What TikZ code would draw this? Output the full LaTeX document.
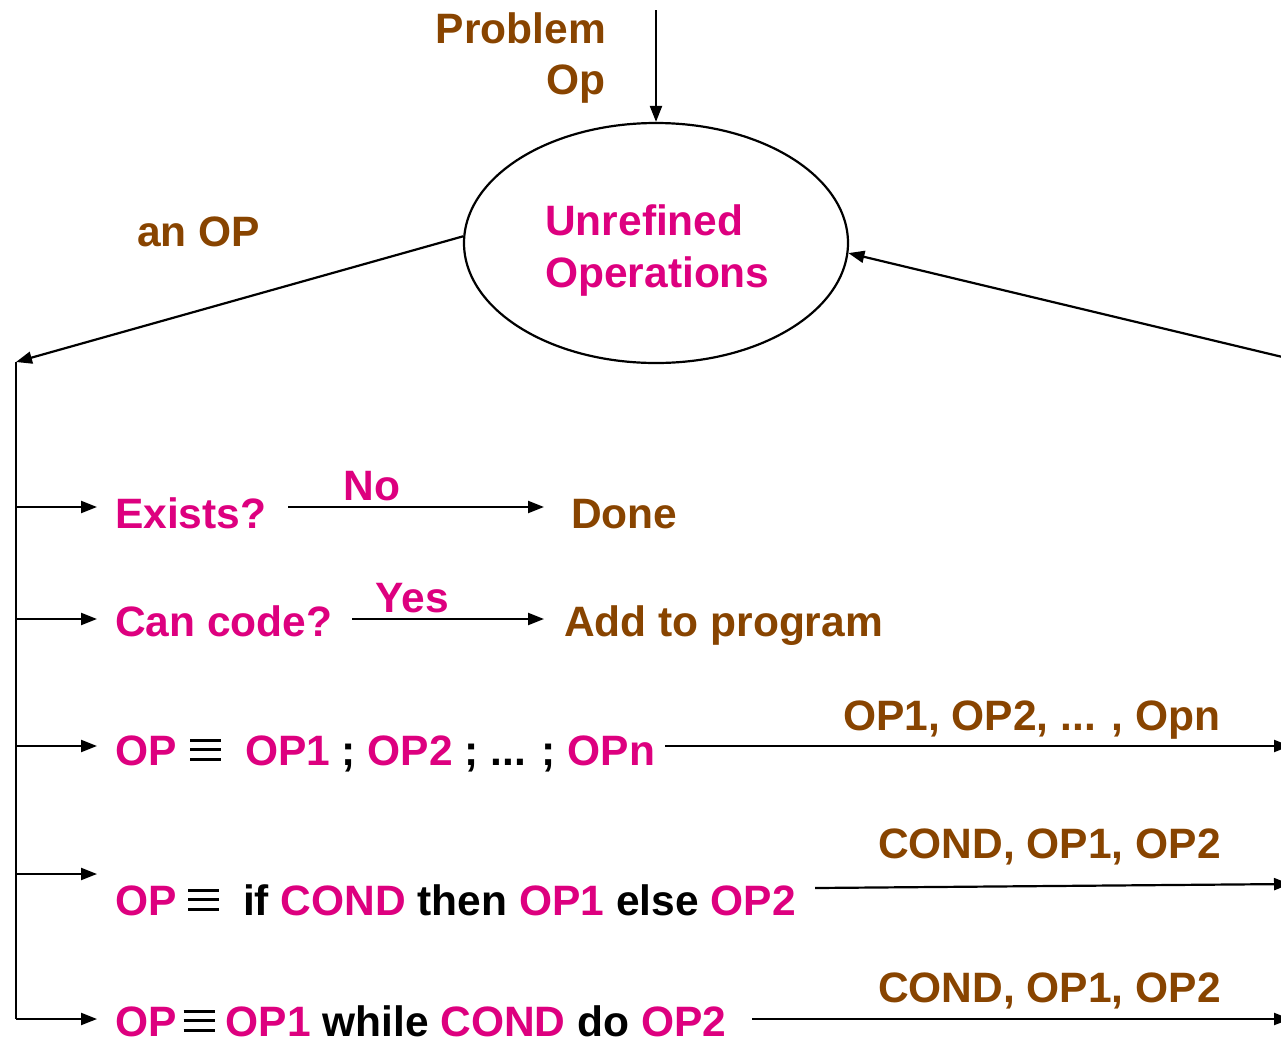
\documentclass[tikz,border=0pt]{standalone}
\usepackage{fontspec}
\setmainfont{Liberation Sans}
\usetikzlibrary{arrows.meta,shapes.geometric}
\definecolor{brn}{RGB}{136,68,0}
\definecolor{mag}{RGB}{221,0,127}
\newcommand\myeqv{\textcolor{black}{\raisebox{4.5pt}{\vbox{\hrule width 31pt height 3pt \vskip 6.5pt \hrule width 31pt height 3pt \vskip 6.5pt \hrule width 31pt height 3pt}}}}
\begin{document}
\begin{tikzpicture}[x=1pt,y=-1pt,
  lbl/.style={inner sep=0pt, anchor=base west, font=\fontsize{42.5}{48}\selectfont\bfseries},
  arr/.style={-{Triangle[length=16pt,width=12pt]}, line width=2.2pt},
  ln/.style={line width=2.2pt}]
\useasboundingbox (0,0) rectangle (1281,1042);

% ellipse
\node[draw, ellipse, line width=2.2pt, minimum width=384pt, minimum height=240pt, inner sep=0pt] (ops) at (656,243) {};
\node[lbl, text=mag] (unref) at (545,235) {Unrefined};
\node[lbl, text=mag] (opers) at (545,287) {Operations};

% problem op
\node[lbl, anchor=base east, text=brn] (prob) at (606,43) {Problem};
\node[lbl, anchor=base east, text=brn] (probop) at (606,94) {Op};
\coordinate (ptop) at (656,10);
\draw[arr] (ptop) -- (ops.north);

% an OP
\node[lbl, text=brn] (anop) at (137,246) {an OP};
\coordinate (spTop) at (16,362);
\coordinate (spBot) at (16,1019);
\draw[arr] (ops.178) -- (spTop);
\draw[ln] (spTop) -- (spBot);

% return from right
\coordinate (rin) at (1295,360);
\draw[arr] (rin) -- (ops.-3);

% branches
\coordinate (s1) at (16,507);
\coordinate (s2) at (16,619);
\coordinate (s3) at (16,746);
\coordinate (s4) at (16,874);
\coordinate (s5) at (16,1019);
\node[lbl, text=mag] (exists) at (115,528) {Exists?};
\node[lbl, text=mag] (cancode) at (115,636) {Can code?};
\node[lbl, text=mag] (seq) at (115,765) {OP \hspace{2pt}\myeqv\ \ OP1 \textcolor{black}{;} OP2 \textcolor{black}{; ... ;} OPn};
\node[lbl, text=mag] (ifte) at (115,915) {OP \myeqv\ \ \textcolor{black}{if} COND \textcolor{black}{then} OP1 \textcolor{black}{else} OP2};
\node[lbl, text=mag] (whl) at (115,1036) {OP\hspace{7pt}\myeqv\hspace{11pt}OP1 \textcolor{black}{while} COND \textcolor{black}{do} OP2};
\foreach \s in {s1,s2,s3,s4,s5} \draw[arr] (\s) -- ++(81,0);

% exists -> done
\node[lbl, text=brn] (done) at (571,528) {Done};
\coordinate (e1) at (288,507);
\coordinate (e2) at (544,507);
\draw[arr] (e1) -- (e2);
\node[lbl, anchor=base, text=mag] (no) at (372,500) {No};

% can code -> add
\node[lbl, text=brn] (add) at (564,636) {Add to program};
\coordinate (c1) at (352,619);
\coordinate (c2) at (544,619);
\draw[arr] (c1) -- (c2);
\node[lbl, anchor=base, text=mag] (yes) at (412,612) {Yes};

% sequence out
\coordinate (q1) at (665,746);
\coordinate (q2) at (1290,746);
\draw[arr] (q1) -- (q2);
\node[lbl, text=brn] (qlab) at (843,730) {OP1, OP2, ... , Opn};

% if out
\coordinate (i1) at (815,888);
\coordinate (i2) at (1290,884);
\draw[arr] (i1) -- (i2);
\node[lbl, text=brn] (ilab) at (878,858) {COND, OP1, OP2};

% while out
\coordinate (w1) at (752,1019);
\coordinate (w2) at (1290,1019);
\draw[arr] (w1) -- (w2);
\node[lbl, text=brn] (wlab) at (878,1002) {COND, OP1, OP2};
\end{tikzpicture}
\end{document}
